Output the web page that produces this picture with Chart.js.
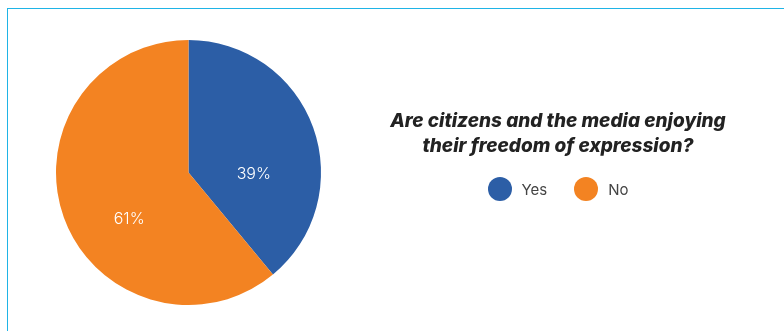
<!DOCTYPE html>
<html>
<head>
<meta charset="utf-8">
<script src="https://cdn.jsdelivr.net/npm/chart.js@4/dist/chart.umd.min.js"></script>
<style>
  html, body { margin: 0; padding: 0; background: #fff; }
  body { width: 784px; height: 331px; position: relative; overflow: hidden; }
  #frame { position: absolute; left: 7px; top: 8px; width: 800px; height: 340px;
           border-left: 1px solid #1fb4e6; border-top: 1px solid #1fb4e6; }
  #pieWrap { position: absolute; left: 0; top: 0; width: 380px; height: 331px; }
  #title { position: absolute; left: 358px; width: 400px; top: 108px; text-align: center;
           font-family: Inter, sans-serif; font-weight: 800; font-style: italic;
           font-size: 19px; line-height: 25px; color: #222; }
  #legend { position: absolute; left: 358px; width: 400px; top: 177px; display: flex;
            justify-content: center; align-items: center;
            font-family: Inter, sans-serif; font-size: 15px; color: #444; }
  .item { display: inline-flex; align-items: center; }
  .item + .item { margin-left: 27px; }
  .dot { width: 24px; height: 24px; border-radius: 50%; display: inline-block; margin-right: 10px; }
</style>
</head>
<body>
<div id="frame"></div>
<div id="pieWrap"><canvas id="c"></canvas></div>
<div id="title">Are citizens and the media enjoying<br>their freedom of expression?</div>
<div id="legend"></div>
<script>
const categories = ["Yes", "No"];
const values = [39, 61];
const colors = ["#2c5ea6", "#f38322"];

const legendEl = document.getElementById('legend');
categories.forEach((c, i) => {
  const s = document.createElement('span');
  s.className = 'item';
  const d = document.createElement('span');
  d.className = 'dot';
  d.style.background = colors[i];
  s.appendChild(d);
  s.appendChild(document.createTextNode(c));
  legendEl.appendChild(s);
});

const labelPlugin = {
  id: 'sliceLabels',
  afterDatasetsDraw(chart) {
    const ctx = chart.ctx;
    const meta = chart.getDatasetMeta(0);
    const total = values.reduce((a, b) => a + b, 0);
    ctx.save();
    ctx.fillStyle = '#ffffff';
    ctx.font = '300 16px Inter, sans-serif';
    ctx.textAlign = 'center';
    ctx.textBaseline = 'middle';
    meta.data.forEach((arc, i) => {
      const p = arc.getProps(['x', 'y', 'startAngle', 'endAngle', 'outerRadius'], true);
      const mid = (p.startAngle + p.endAngle) / 2;
      const r = p.outerRadius * 0.5;
      const x = p.x + Math.cos(mid) * r + 3;
      const y = p.y + Math.sin(mid) * r + p.outerRadius * 0.18;
      ctx.fillText(Math.round(values[i] / total * 100) + '%', x, y);
    });
    ctx.restore();
  }
};

new Chart(document.getElementById('c'), {
  type: 'pie',
  data: {
    labels: categories,
    datasets: [{ data: values, backgroundColor: colors, borderWidth: 0, hoverOffset: 0 }]
  },
  options: {
    responsive: true,
    maintainAspectRatio: false,
    animation: false,
    layout: { padding: { left: 56, top: 40, right: 59, bottom: 26 } },
    plugins: { legend: { display: false }, tooltip: { enabled: false }, title: { display: false } }
  },
  plugins: [labelPlugin]
});
</script>
</body>
</html>
